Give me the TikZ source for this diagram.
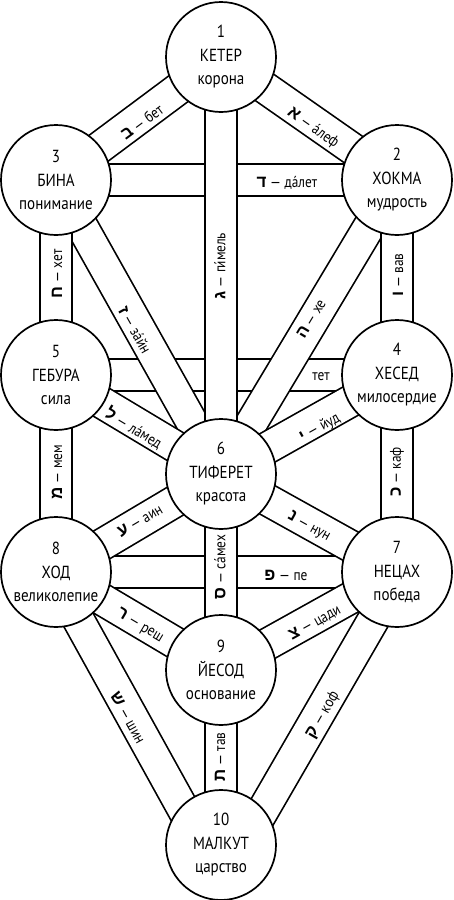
\documentclass[tikz,border=0pt]{standalone}
\usepackage{fontspec}
\setmainfont{PT Sans}[FakeStretch=0.86]
\newfontfamily\heb[Script=Hebrew]{Liberation Sans}
\usetikzlibrary{calc}
\pgfdeclarelayer{bg}
\pgfsetlayers{bg,main}
\tikzset{
  sefira/.style={circle,draw,line width=1.7pt,fill=white,minimum size=110pt,inner sep=0pt,align=center,font=\fontsize{17.5}{23.5}\selectfont},
  pathband/.style={draw,line width=1.7pt,double=white,double distance=30.3pt},
  lbl/.style={inner sep=0pt,font=\fontsize{15.5}{16}\selectfont},
}
\newcommand{\hebl}[1]{{\heb\bfseries\fontsize{17}{17}\selectfont #1}}
\begin{document}
\begin{tikzpicture}[x=1pt,y=-1pt]
\useasboundingbox (0,0) rectangle (454,900);
% sefirot
\node[sefira] (k1) at (221,57) {1\\КЕТЕР\\корона};
\node[sefira] (h2) at (397,180) {2\\ХОКМА\\мудрость};
\node[sefira] (b3) at (56,180) {3\\БИНА\\понимание};
\node[sefira] (c4) at (397,375) {4\\ХЕСЕД\\милосердие};
\node[sefira] (g5) at (56,375) {5\\ГЕБУРА\\сила};
\node[sefira] (t6) at (221,474) {6\\ТИФЕРЕТ\\красота};
\node[sefira] (n7) at (397,572) {7\\НЕЦАХ\\победа};
\node[sefira] (d8) at (56,572) {8\\ХОД\\великолепие};
\node[sefira] (y9) at (221,670) {9\\ЙЕСОД\\основание};
\node[sefira] (m10) at (221,845) {10\\МАЛКУТ\\царство};
% paths
\begin{pgfonlayer}{bg}
\draw[pathband] (b3.center) -- (h2.center);
\draw[pathband] (g5.center) -- (c4.center);
\draw[pathband] (d8.center) -- (n7.center);
\draw[pathband] (b3.center) -- (k1.center);
\draw[pathband] (k1.center) -- (h2.center);
\draw[pathband] (b3.center) -- (t6.center);
\draw[pathband] (h2.center) -- (t6.center);
\draw[pathband] (g5.center) -- (t6.center);
\draw[pathband] (c4.center) -- (t6.center);
\draw[pathband] (d8.center) -- (t6.center);
\draw[pathband] (n7.center) -- (t6.center);
\draw[pathband] (d8.center) -- (y9.center);
\draw[pathband] (n7.center) -- (y9.center);
\draw[pathband] ($(d8.center)+(-4,0)$) -- ($(m10.center)+(-18,0)$);
\draw[pathband] ($(n7.center)+(4,0)$) -- ($(m10.center)+(22,0)$);
\draw[pathband] (k1.center) -- (t6.center);
\draw[pathband] (b3.center) -- (g5.center);
\draw[pathband] (h2.center) -- (c4.center);
\draw[pathband] (g5.center) -- (d8.center);
\draw[pathband] (c4.center) -- (n7.center);
\draw[pathband] (t6.center) -- (y9.center);
\draw[pathband] (y9.center) -- (m10.center);
\end{pgfonlayer}
% labels
\node[lbl,rotate=36.7] (lbet) at (142,122) {\hebl{ב} — бет};
\node[lbl,rotate=-35] (lalef) at (313,128) {\hebl{א} — áлеф};
\node[lbl] (ldalet) at (287,183) {\hebl{ד} — дáлет};
\node[lbl,rotate=90] (lgimel) at (220,266) {\hebl{ג} — ги́мель};
\node[lbl,rotate=90] (lhet) at (57,274) {\hebl{ח} — хет};
\node[lbl,rotate=90] (lvav) at (398,275) {\hebl{ו} — вав};
\node[lbl,rotate=-60.7] (lzain) at (135,330) {\hebl{ז} — зáйн};
\node[lbl,rotate=59.1] (lhe) at (311,319) {\hebl{ה} — хе};
\node[lbl] (ltet) at (321,377) {тет};
\node[lbl,rotate=-31] (llamed) at (134,428) {\hebl{ל} — лáмед};
\node[lbl,rotate=29.4] (lyud) at (320,428) {\hebl{י} — йуд};
\node[lbl,rotate=90] (lmem) at (57,472) {\hebl{מ} — мем};
\node[lbl,rotate=90] (lkaf) at (397,472) {\hebl{כ} — каф};
\node[lbl,rotate=30.7] (lain) at (140,521) {\hebl{ע} — аин};
\node[lbl,rotate=-29.1] (lnun) at (309,527) {\hebl{נ} — нун};
\node[lbl,rotate=90] (lsamekh) at (220,567) {\hebl{ס} — сáмех};
\node[lbl] (lpe) at (286,575) {\hebl{פ} — пе};
\node[lbl,rotate=-30.7] (lresh) at (140,626) {\hebl{ר} — реш};
\node[lbl,rotate=29.1] (ltsadi) at (315,623) {\hebl{צ} — цади};
\node[lbl,rotate=-61] (lshin) at (128,718) {\hebl{ש} — шин};
\node[lbl,rotate=60] (lkof) at (323,715) {\hebl{ק} — коф};
\node[lbl,rotate=90] (ltav) at (220,757) {\hebl{ת} — тав};
\end{tikzpicture}
\end{document}
